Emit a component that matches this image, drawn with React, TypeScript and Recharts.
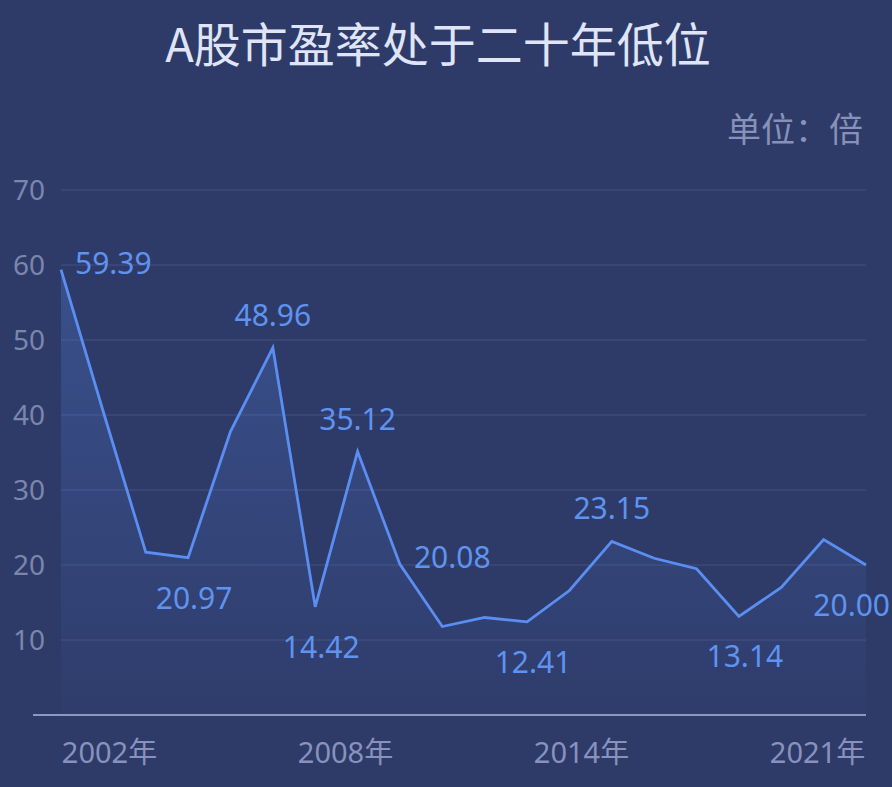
import { AreaChart, Area, XAxis, YAxis, CartesianGrid, ReferenceLine } from "recharts";

const YEARS = [
  2002, 2003, 2004, 2005, 2006, 2007, 2008, 2009, 2010, 2011,
  2012, 2013, 2014, 2015, 2016, 2017, 2018, 2019, 2020, 2021,
];
const PE_VALUES = [
  59.39, 40.4, 21.7, 20.97, 37.8, 48.96, 14.42, 35.12, 20.08, 11.8,
  13.0, 12.41, 16.6, 23.15, 20.9, 19.5, 13.14, 17.0, 23.4, 20.0,
];
const LABELED_YEARS = [2002, 2005, 2007, 2008, 2009, 2010, 2013, 2015, 2018, 2021];
const X_TICKS = [2002, 2008, 2014, 2021];
const Y_TICKS = [0, 10, 20, 30, 40, 50, 60, 70];

const TITLE = "A股市盈率处于二十年低位";
const UNIT = "单位：倍";

const FONT = '"Noto Sans", "Noto Sans CJK SC", sans-serif';
const CJK_FONT = '"Noto Sans CJK SC", "Noto Sans", sans-serif';

const W = 892;
const H = 787;
const PLOT_LEFT = 61;
const PLOT_RIGHT = 866;
const X_LABEL_W = 97;

const BG = "#2e3b69";
const LINE = "#5b8ef2";
const LABEL = "#5f93f0";

// peaks get the label above, troughs below, everything else to the right
function placeFor(i: number) {
  const v = PE_VALUES[i];
  const prev = PE_VALUES[i - 1];
  const next = PE_VALUES[i + 1];
  if (prev === undefined) return "right";
  if (next === undefined) return prev > v ? "bottom" : "top";
  if (v > prev && v > next) return "top";
  if (v < prev && v < next) return "bottom";
  return "right";
}

const data = YEARS.map((year, i) => ({
  year,
  pe: PE_VALUES[i],
  label: LABELED_YEARS.includes(year) ? PE_VALUES[i].toFixed(2) : null,
  place: placeFor(i),
  last: i === YEARS.length - 1,
}));

function XTick(props: any) {
  const { y, payload, index } = props;
  const step = (PLOT_RIGHT - PLOT_LEFT - X_LABEL_W) / (X_TICKS.length - 1);
  const cx = PLOT_LEFT + X_LABEL_W / 2 + index * step;
  return (
    <text x={cx} y={y + 40} textAnchor="middle" fill="#8892bd" fontSize={29} fontFamily={FONT}>
      {payload.value}年
    </text>
  );
}

function ValueLabel(props: any) {
  const { cx, cy, payload, index } = props;
  if (!payload || !payload.label) return <g key={`l${index}`} />;
  let x = cx;
  let y = cy;
  let anchor = "middle";
  if (payload.place === "top") {
    y = cy - 22;
  } else if (payload.place === "bottom") {
    y = cy + 51;
    if (payload.last) {
      x = cx + 24;
      anchor = "end";
    } else {
      x = cx + 6;
    }
  } else {
    x = cx + 14;
    y = cy + 4;
    anchor = "start";
  }
  return (
    <text key={`l${index}`} x={x} y={y} textAnchor={anchor} fill={LABEL} fontSize={30} fontFamily={FONT}>
      {payload.label}
    </text>
  );
}

export default function App() {
  return (
    <div
      style={{
        position: "absolute",
        left: 0,
        top: 0,
        width: W,
        height: H,
        background: BG,
        overflow: "hidden",
      }}
    >
      <div
        style={{
          position: "absolute",
          left: 0,
          top: 18,
          width: 876,
          textAlign: "center",
          fontSize: 47,
          lineHeight: "47px",
          fontWeight: 400,
          color: "#dfe4f6",
          fontFamily: CJK_FONT,
          whiteSpace: "nowrap",
        }}
      >
        {TITLE}
      </div>
      <div
        style={{
          position: "absolute",
          right: 29,
          top: 111,
          fontSize: 34,
          lineHeight: "34px",
          color: "#8891b8",
          fontFamily: CJK_FONT,
          whiteSpace: "nowrap",
        }}
      >
        {UNIT}
      </div>
      <div style={{ position: "absolute", left: 0, top: 0 }}>
        <AreaChart width={W} height={H} data={data} margin={{ top: 190, right: W - PLOT_RIGHT, left: 0, bottom: 0 }}>
          <defs>
            <linearGradient id="peFill" x1="0" y1="0" x2="0" y2="1">
              <stop offset="0%" stopColor={LINE} stopOpacity={0.42} />
              <stop offset="100%" stopColor={LINE} stopOpacity={0.03} />
            </linearGradient>
          </defs>
          <CartesianGrid vertical={false} stroke="#3c4a7a" strokeWidth={1.5} />
          <XAxis
            dataKey="year"
            type="number"
            domain={[2002, 2021]}
            ticks={X_TICKS}
            interval={0}
            height={72}
            axisLine={false}
            tickLine={false}
            tick={<XTick />}
          />
          <YAxis
            domain={[0, 70]}
            ticks={Y_TICKS}
            interval={0}
            width={PLOT_LEFT}
            axisLine={false}
            tickLine={false}
            tickMargin={10}
            tickFormatter={(v: number) => (v === 0 ? "" : String(v))}
            tick={{ fill: "#7b86ad", fontSize: 28, fontFamily: FONT }}
          />
          <ReferenceLine
            y={0}
            shape={(p: any) => (
              <line x1={p.x1 - 28} y1={p.y1} x2={p.x2} y2={p.y2} stroke="#8c97c9" strokeWidth={2} />
            )}
          />
          <Area
            type="linear"
            dataKey="pe"
            stroke={LINE}
            strokeWidth={2.8}
            fill="url(#peFill)"
            dot={ValueLabel}
            activeDot={false}
            isAnimationActive={false}
          />
        </AreaChart>
      </div>
    </div>
  );
}
